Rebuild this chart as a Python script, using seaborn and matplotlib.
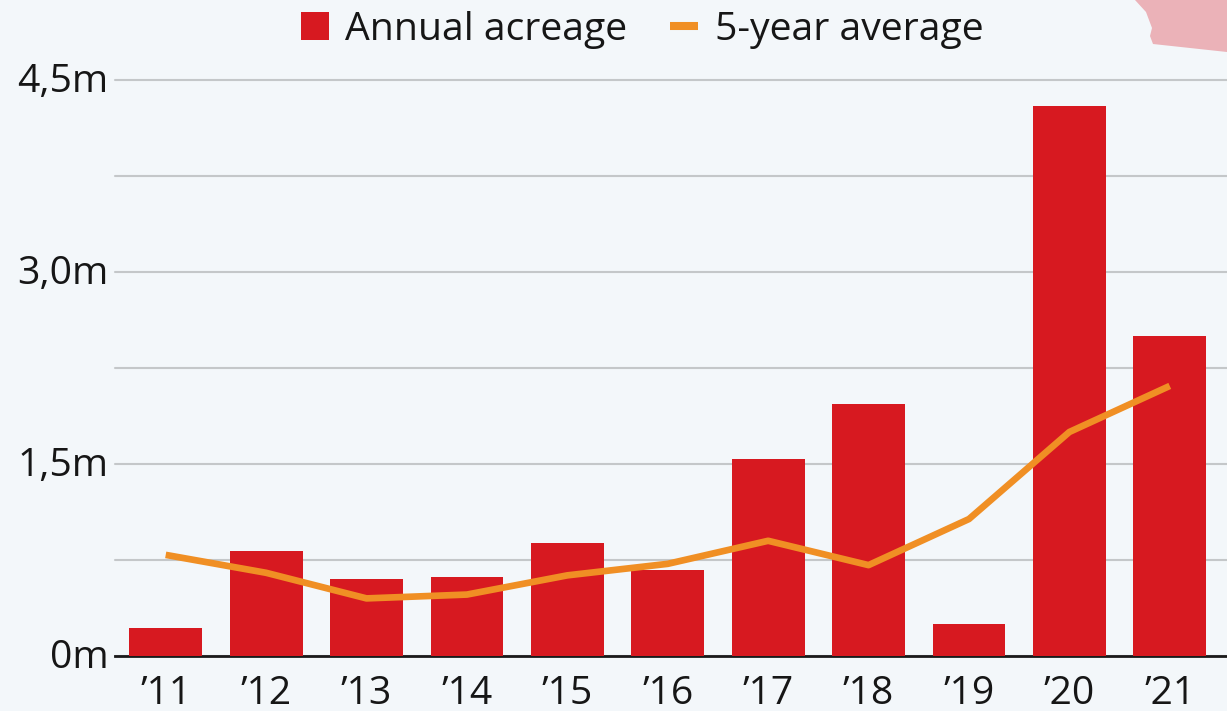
import pandas as pd
import seaborn as sns
import matplotlib.pyplot as plt
from matplotlib.patches import Polygon
from matplotlib.transforms import ScaledTranslation

years = ["’11", "’12", "’13", "’14", "’15", "’16", "’17", "’18", "’19", "’20", "’21"]
annual_acreage = [0.22, 0.82, 0.60, 0.62, 0.88, 0.67, 1.54, 1.97, 0.25, 4.30, 2.50]
five_year_avg = [0.79, 0.65, 0.45, 0.48, 0.63, 0.72, 0.90, 0.71, 1.07, 1.75, 2.11]
y_ticks = [0, 0.75, 1.5, 2.25, 3.0, 3.75, 4.5]
y_labels = ["0m", "", "1,5m", "", "3,0m", "", "4,5m"]

BG = "#f3f7fa"
W, H = 1227, 711

sns.set_theme(style="white")
plt.rcParams['font.family'] = ['Open Sans', 'DejaVu Sans']

df = pd.DataFrame({"year": years, "annual": annual_acreage, "avg": five_year_avg})

fig = plt.figure(figsize=(W / 100, H / 100), dpi=100, facecolor=BG)
ax = fig.add_axes([115 / W, 1 - 656 / H, (W - 115) / W, 576 / H], facecolor=BG)

sns.barplot(data=df, x="year", y="annual", color="#d71920", saturation=1, width=0.725,
            linewidth=0, ax=ax, label="Annual acreage", zorder=3)
sns.lineplot(data=df, x="year", y="avg", color="#f08f24", linewidth=4.8, sort=False,
             ax=ax, label="5-year average", zorder=4, solid_capstyle="butt")

ax.set_xlim(-0.505, 10.57)
ax.set_ylim(0, 4.5)
ax.set_xlabel("")
ax.set_ylabel("")
ax.set_yticks(y_ticks)
ax.set_yticklabels(y_labels)
ax.grid(axis="y", color="#c4c7c9", linewidth=1.5, zorder=0, clip_on=False)
ax.set_axisbelow(True)
ax.tick_params(axis="both", length=0, labelsize=28.2, labelcolor="#161616")
ax.tick_params(axis="y", pad=4.5)
ax.tick_params(axis="x", pad=14)
for s in ["top", "left", "right"]:
    ax.spines[s].set_visible(False)
ax.spines["bottom"].set_color("#1a1a1a")
ax.spines["bottom"].set_linewidth(2)

# y labels sit a little above their grid lines
nudge = ScaledTranslation(0, 1.5 / 72, fig.dpi_scale_trans)
for t in ax.get_yticklabels():
    t.set_transform(t.get_transform() + nudge)

# legend above the plot, bars entry first
handles, labels = ax.get_legend_handles_labels()
order = [labels.index("Annual acreage"), labels.index("5-year average")]
leg = fig.legend([handles[i] for i in order], [labels[i] for i in order], loc="center", ncol=2,
                 frameon=False, bbox_to_anchor=(642 / W, 1 - 30 / H), fontsize=28.2,
                 labelcolor="#161616", handlelength=0.72, handleheight=0.72,
                 handletextpad=0.41, columnspacing=1.1)
leg.get_lines()[0].set_linewidth(5.8)
ax.get_legend().remove()

# cut off pink shape in the top right corner
shape = [(1135, 0), (1146, 12), (1152, 28), (1150, 36), (1153, 44), (1227, 52), (1227, 0)]
fig.add_artist(Polygon([(x / W, 1 - y / H) for x, y in shape], closed=True,
                       transform=fig.transFigure, facecolor="#ebb2b8", edgecolor="none"))

fig.savefig("out.png", dpi=100, facecolor=BG)
